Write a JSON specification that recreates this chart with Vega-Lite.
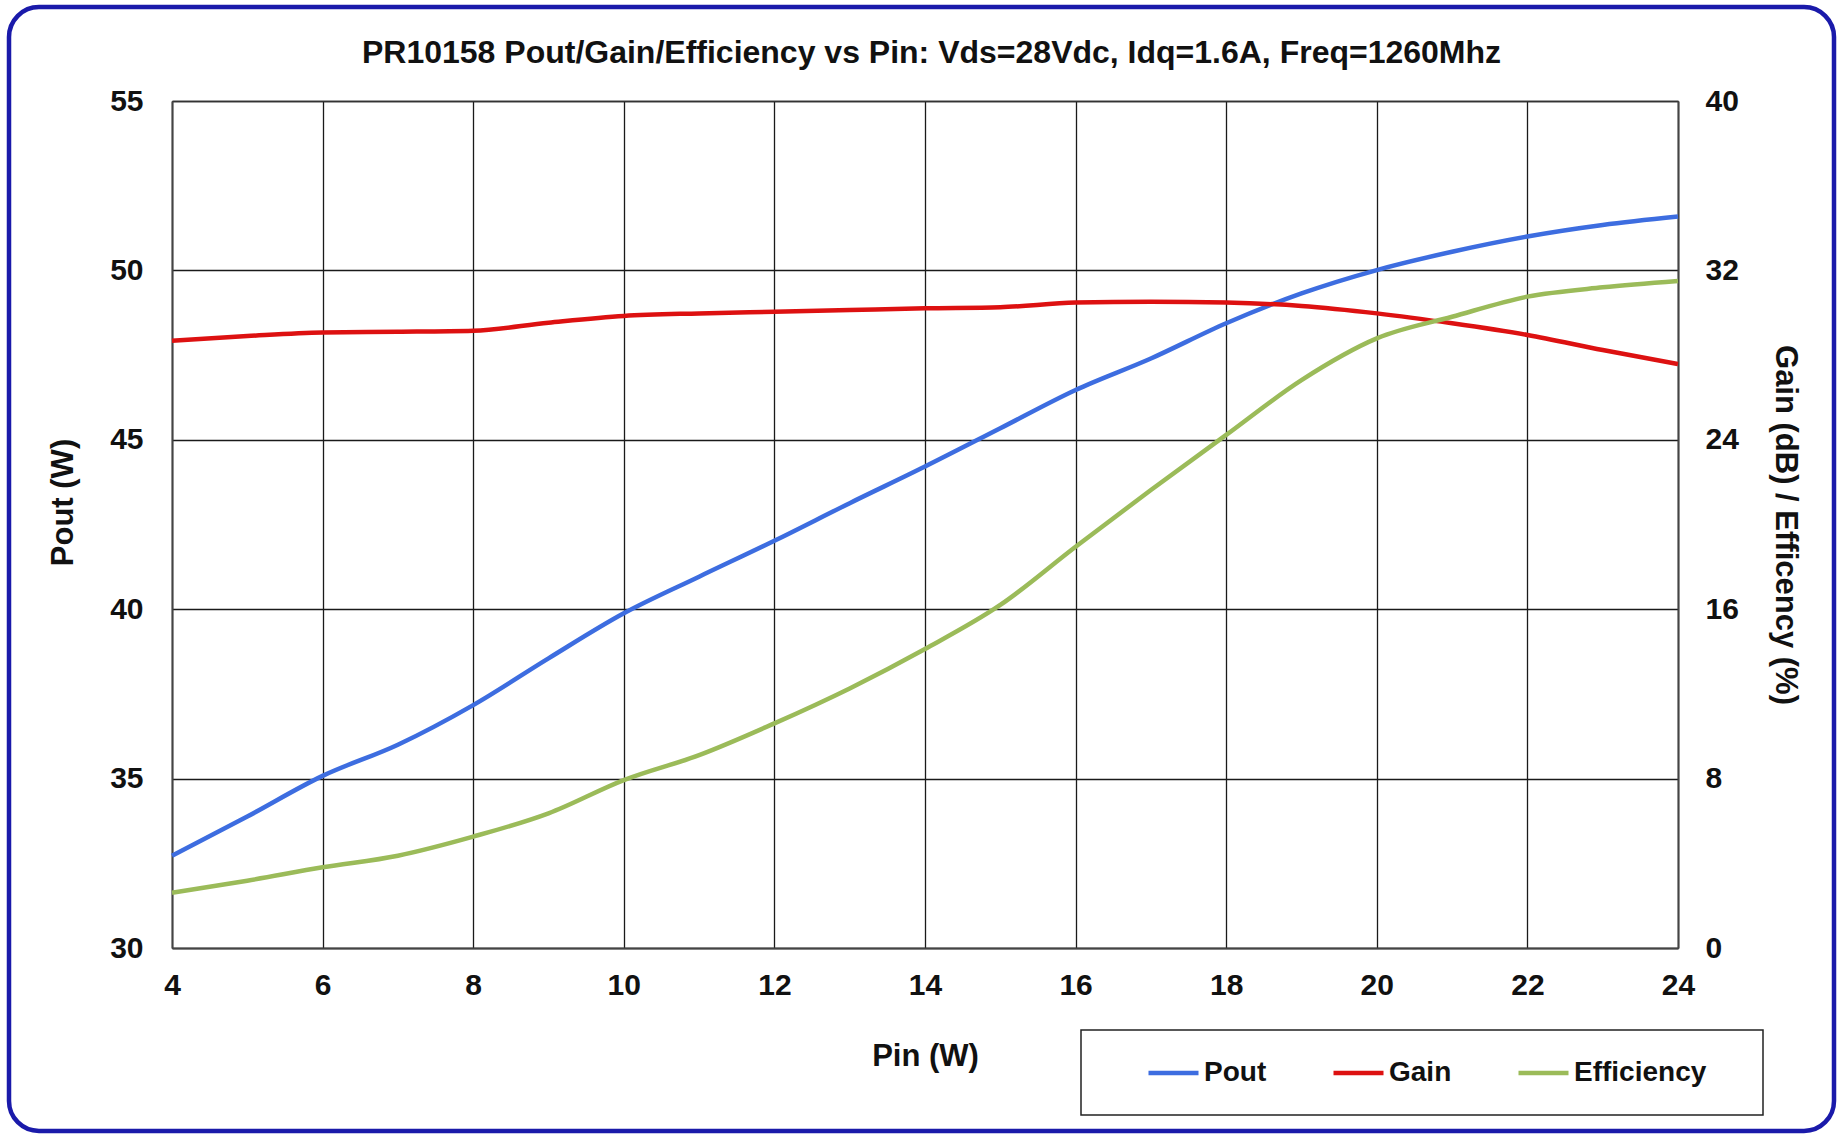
{
  "$schema": "https://vega.github.io/schema/vega-lite/v6.json",
  "autosize": {"type": "none"},
  "padding": {"left": 9, "top": 7, "right": 9, "bottom": 5},
  "width": 1825,
  "height": 1124,
  "background": "white",
  "title": {
    "text": "PR10158 Pout/Gain/Efficiency vs Pin: Vds=28Vdc, Idq=1.6A, Freq=1260Mhz",
    "anchor": "middle",
    "frame": "group",
    "baseline": "middle",
    "offset": -47,
    "dx": 10,
    "dy": 31,
    "fontSize": 32,
    "font": "Liberation Sans",
    "fontWeight": "bold",
    "color": "#111111"
  },
  "data": {
    "values": [
      {"Pin": 4, "series": "Pout", "value": 32.72},
      {"Pin": 5, "series": "Pout", "value": 33.88},
      {"Pin": 6, "series": "Pout", "value": 35.08},
      {"Pin": 7, "series": "Pout", "value": 36.0},
      {"Pin": 8, "series": "Pout", "value": 37.17},
      {"Pin": 9, "series": "Pout", "value": 38.55},
      {"Pin": 10, "series": "Pout", "value": 39.88},
      {"Pin": 11, "series": "Pout", "value": 40.96},
      {"Pin": 12, "series": "Pout", "value": 42.02},
      {"Pin": 13, "series": "Pout", "value": 43.13},
      {"Pin": 14, "series": "Pout", "value": 44.21},
      {"Pin": 15, "series": "Pout", "value": 45.34},
      {"Pin": 16, "series": "Pout", "value": 46.47},
      {"Pin": 17, "series": "Pout", "value": 47.4},
      {"Pin": 18, "series": "Pout", "value": 48.44},
      {"Pin": 19, "series": "Pout", "value": 49.32},
      {"Pin": 20, "series": "Pout", "value": 50.01},
      {"Pin": 21, "series": "Pout", "value": 50.55},
      {"Pin": 22, "series": "Pout", "value": 51.0},
      {"Pin": 23, "series": "Pout", "value": 51.34},
      {"Pin": 24, "series": "Pout", "value": 51.59},
      {"Pin": 4, "series": "Gain", "value": 28.68},
      {"Pin": 5, "series": "Gain", "value": 28.9},
      {"Pin": 6, "series": "Gain", "value": 29.07},
      {"Pin": 7, "series": "Gain", "value": 29.1},
      {"Pin": 8, "series": "Gain", "value": 29.15},
      {"Pin": 9, "series": "Gain", "value": 29.53},
      {"Pin": 10, "series": "Gain", "value": 29.85},
      {"Pin": 11, "series": "Gain", "value": 29.97},
      {"Pin": 12, "series": "Gain", "value": 30.05},
      {"Pin": 13, "series": "Gain", "value": 30.13},
      {"Pin": 14, "series": "Gain", "value": 30.21},
      {"Pin": 15, "series": "Gain", "value": 30.26},
      {"Pin": 16, "series": "Gain", "value": 30.48},
      {"Pin": 17, "series": "Gain", "value": 30.52},
      {"Pin": 18, "series": "Gain", "value": 30.48},
      {"Pin": 19, "series": "Gain", "value": 30.32},
      {"Pin": 20, "series": "Gain", "value": 29.97},
      {"Pin": 21, "series": "Gain", "value": 29.5},
      {"Pin": 22, "series": "Gain", "value": 28.95},
      {"Pin": 23, "series": "Gain", "value": 28.24},
      {"Pin": 24, "series": "Gain", "value": 27.58},
      {"Pin": 4, "series": "Efficiency", "value": 2.61},
      {"Pin": 5, "series": "Efficiency", "value": 3.18},
      {"Pin": 6, "series": "Efficiency", "value": 3.81},
      {"Pin": 7, "series": "Efficiency", "value": 4.36},
      {"Pin": 8, "series": "Efficiency", "value": 5.26},
      {"Pin": 9, "series": "Efficiency", "value": 6.36},
      {"Pin": 10, "series": "Efficiency", "value": 7.93},
      {"Pin": 11, "series": "Efficiency", "value": 9.11},
      {"Pin": 12, "series": "Efficiency", "value": 10.61},
      {"Pin": 13, "series": "Efficiency", "value": 12.26},
      {"Pin": 14, "series": "Efficiency", "value": 14.12},
      {"Pin": 15, "series": "Efficiency", "value": 16.2},
      {"Pin": 16, "series": "Efficiency", "value": 18.95},
      {"Pin": 17, "series": "Efficiency", "value": 21.63},
      {"Pin": 18, "series": "Efficiency", "value": 24.23},
      {"Pin": 19, "series": "Efficiency", "value": 26.82},
      {"Pin": 20, "series": "Efficiency", "value": 28.79},
      {"Pin": 21, "series": "Efficiency", "value": 29.81},
      {"Pin": 22, "series": "Efficiency", "value": 30.76},
      {"Pin": 23, "series": "Efficiency", "value": 31.2},
      {"Pin": 24, "series": "Efficiency", "value": 31.5}
    ]
  },
  "encoding": {
    "color": {
      "field": "series",
      "type": "nominal",
      "scale": {"domain": ["Pout", "Gain", "Efficiency"], "range": ["#3d6de0", "#dd1111", "#9bbb59"]},
      "legend": {
        "orient": "none",
        "legendX": 1072,
        "legendY": 1023,
        "direction": "horizontal",
        "title": "\u00a0",
        "titleOrient": "right",
        "titlePadding": 29,
        "titleFontSize": 28,
        "strokeColor": "#222222",
        "fillColor": "white",
        "padding": 28,
        "symbolType": "M-2,0H2",
        "symbolSize": 625,
        "symbolStrokeWidth": 4.5,
        "symbolOffset": 49.5,
        "columnPadding": 27,
        "labelOffset": 15.5,
        "labelFontSize": 28,
        "labelFont": "Liberation Sans",
        "labelFontWeight": "bold",
        "labelColor": "#111111"
      }
    }
  },
  "layer": [
    {
      "transform": [{"filter": "datum.series === 'Pout'"}],
      "mark": {"type": "line", "interpolate": "monotone", "strokeWidth": 4.5},
      "encoding": {
        "x": {
          "field": "Pin",
          "type": "quantitative",
          "scale": {"domain": [4, 24], "range": [163, 1669], "nice": false, "zero": false},
          "axis": {
            "orient": "bottom",
            "offset": -183,
            "values": [4, 6, 8, 10, 12, 14, 16, 18, 20, 22, 24],
            "grid": false,
            "domainColor": "#444444",
            "domainWidth": 2,
            "ticks": false,
            "tickSize": 0,
            "labelFlush": false,
            "labelOverlap": false,
            "labelPadding": 22,
            "labelFontSize": 30,
            "labelFont": "Liberation Sans",
            "labelFontWeight": "bold",
            "labelColor": "#111111",
            "title": "Pin (W)",
            "titleFontSize": 31,
            "titleFont": "Liberation Sans",
            "titleFontWeight": "bold",
            "titleColor": "#111111",
            "titlePadding": 41
          }
        },
        "y": {
          "field": "value",
          "type": "quantitative",
          "scale": {"domain": [30, 55], "range": [941, 94], "nice": false, "zero": false},
          "axis": {
            "orient": "left",
            "offset": -163,
            "values": [30, 35, 40, 45, 50, 55],
            "grid": true,
            "gridColor": "#1a1a1a",
            "gridWidth": 1.3,
            "domainColor": "#444444",
            "domainWidth": 2,
            "ticks": false,
            "tickSize": 0,
            "labelFlush": false,
            "labelOverlap": false,
            "labelPadding": 29,
            "labelFontSize": 30,
            "labelFont": "Liberation Sans",
            "labelFontWeight": "bold",
            "labelColor": "#111111",
            "title": "Pout (W)",
            "titleFontSize": 31,
            "titleFont": "Liberation Sans",
            "titleFontWeight": "bold",
            "titleColor": "#111111",
            "titlePadding": 30,
            "titleY": 495
          }
        }
      }
    },
    {
      "transform": [{"filter": "datum.series !== 'Pout'"}],
      "mark": {"type": "line", "interpolate": "monotone", "strokeWidth": 4.5},
      "encoding": {
        "x": {
          "field": "Pin",
          "type": "quantitative",
          "axis": {
            "orient": "top",
            "offset": -94,
            "values": [4, 6, 8, 10, 12, 14, 16, 18, 20, 22, 24],
            "grid": true,
            "gridColor": "#1a1a1a",
            "gridWidth": 1.3,
            "domainColor": "#333333",
            "domainWidth": 1.5,
            "ticks": false,
            "labels": false,
            "title": null
          }
        },
        "y": {
          "field": "value",
          "type": "quantitative",
          "scale": {"domain": [0, 40], "range": [941, 94], "nice": false, "zero": false},
          "axis": {
            "orient": "right",
            "offset": -156,
            "values": [0, 8, 16, 24, 32, 40],
            "grid": false,
            "domainColor": "#444444",
            "domainWidth": 2,
            "ticks": false,
            "tickSize": 0,
            "labelFlush": false,
            "labelOverlap": false,
            "labelPadding": 27,
            "labelFontSize": 30,
            "labelFont": "Liberation Sans",
            "labelFontWeight": "bold",
            "labelColor": "#111111",
            "title": "Gain (dB) / Efficency (%)",
            "titleFontSize": 31,
            "titleFont": "Liberation Sans",
            "titleFontWeight": "bold",
            "titleColor": "#111111",
            "titlePadding": 30
          }
        }
      }
    }
  ],
  "resolve": {"scale": {"y": "independent"}, "axis": {"x": "independent"}},
  "config": {
    "font": "Liberation Sans",
    "legend": {"strokeWidth": 1.5},
    "view": {"stroke": "#1a1aaa", "strokeWidth": 4.5, "cornerRadius": 30, "fill": "white"}
  }
}
